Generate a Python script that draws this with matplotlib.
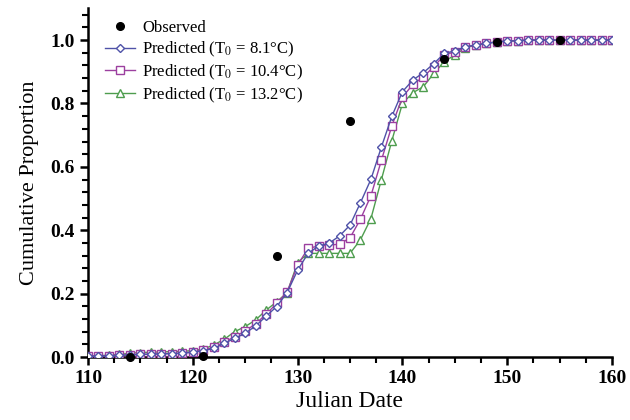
import matplotlib
matplotlib.use('Agg')
import matplotlib.pyplot as plt
from matplotlib.ticker import MultipleLocator

days = list(range(110, 161))

obs_days = [114, 121, 128, 135, 144, 149, 155]
obs_vals = [0.0, 0.003, 0.32, 0.745, 0.94, 0.994, 1.0]

pred_81 = [0.002, 0.003, 0.004, 0.005, 0.007, 0.008, 0.009, 0.010, 0.011, 0.012,
           0.015, 0.020, 0.027, 0.043, 0.059, 0.075, 0.098, 0.129, 0.159, 0.203,
           0.274, 0.327, 0.350, 0.359, 0.382, 0.416, 0.487, 0.561, 0.663, 0.760,
           0.837, 0.874, 0.897, 0.926, 0.958, 0.966, 0.979, 0.984, 0.990, 0.994,
           0.997, 0.998, 1.0, 1.0, 1.0, 1.0, 1.0, 1.0, 1.0, 1.0, 1.0]
pred_104 = [0.002, 0.003, 0.004, 0.005, 0.007, 0.008, 0.009, 0.010, 0.011, 0.012,
            0.016, 0.022, 0.030, 0.047, 0.064, 0.082, 0.105, 0.135, 0.169, 0.205,
            0.290, 0.343, 0.350, 0.353, 0.356, 0.376, 0.435, 0.509, 0.621, 0.730,
            0.820, 0.860, 0.884, 0.916, 0.953, 0.963, 0.977, 0.985, 0.990, 0.994,
            0.997, 0.998, 1.0, 1.0, 1.0, 1.0, 1.0, 1.0, 1.0, 1.0, 1.0]
pred_132 = [0.003, 0.004, 0.006, 0.008, 0.012, 0.014, 0.015, 0.016, 0.017, 0.018,
            0.020, 0.025, 0.038, 0.056, 0.080, 0.096, 0.117, 0.148, 0.174, 0.203,
            0.298, 0.327, 0.327, 0.327, 0.327, 0.327, 0.370, 0.437, 0.560, 0.683,
            0.800, 0.834, 0.853, 0.895, 0.932, 0.953, 0.975, 0.985, 0.990, 0.994,
            0.997, 0.998, 1.0, 1.0, 1.0, 1.0, 1.0, 1.0, 1.0, 1.0, 1.0]

plt.rcParams['font.family'] = ['Liberation Serif', 'DejaVu Serif']
plt.rcParams['mathtext.fontset'] = 'stix'

fig = plt.figure(figsize=(6.3, 4.2), dpi=100)
ax = fig.add_axes([0.1397, 0.15, 0.8317, 0.83])

ax.plot(days, pred_132, color='#4e9d4e', lw=1.0, marker='^', ms=5.5, mfc='white',
        mew=1.0, label='Predicted (T$_{0}$ = 13.2°C)', zorder=3)
ax.plot(days, pred_104, color='#9c3f9f', lw=1.0, marker='s', ms=6, mfc='white',
        mew=1.0, label='Predicted (T$_{0}$ = 10.4°C)', zorder=4)
ax.plot(days, pred_81, color='#4f52a8', lw=1.0, marker='D', ms=4.5, mfc='white',
        mew=1.0, label='Predicted (T$_{0}$ = 8.1°C)', zorder=5)
ax.plot(obs_days, obs_vals, 'o', color='black', ms=5.5, label='Observed',
        zorder=6, clip_on=False)

ax.set_xlim(110, 160)
ax.set_ylim(0, 1.1)
ax.xaxis.set_major_locator(MultipleLocator(10))
ax.xaxis.set_minor_locator(MultipleLocator(2.5))
ax.yaxis.set_major_locator(MultipleLocator(0.2))
ax.yaxis.set_minor_locator(MultipleLocator(0.04))
ax.yaxis.set_major_formatter(plt.FuncFormatter(lambda v, p: '%.1f' % v))

for s in ['top', 'right']:
    ax.spines[s].set_visible(False)
for s in ['left', 'bottom']:
    ax.spines[s].set_linewidth(1.8)

ax.tick_params(which='major', length=6, width=1.8, labelsize=14)
ax.tick_params(which='minor', length=4, width=1.5)
for lab in ax.get_xticklabels() + ax.get_yticklabels():
    lab.set_fontweight('bold')

ax.set_xlabel('Julian Date', fontsize=17, labelpad=3)
ax.set_ylabel('Cumulative Proportion', fontsize=16, labelpad=8)

h, l = ax.get_legend_handles_labels()
order = [3, 2, 1, 0]
ax.legend([h[i] for i in order], [l[i] for i in order], loc='upper left',
          bbox_to_anchor=(0.01, 1.0), frameon=False, fontsize=12,
          handlelength=1.8, handletextpad=0.45, labelspacing=0.22,
          borderaxespad=0.3)

fig.savefig('out.png', dpi=100)
